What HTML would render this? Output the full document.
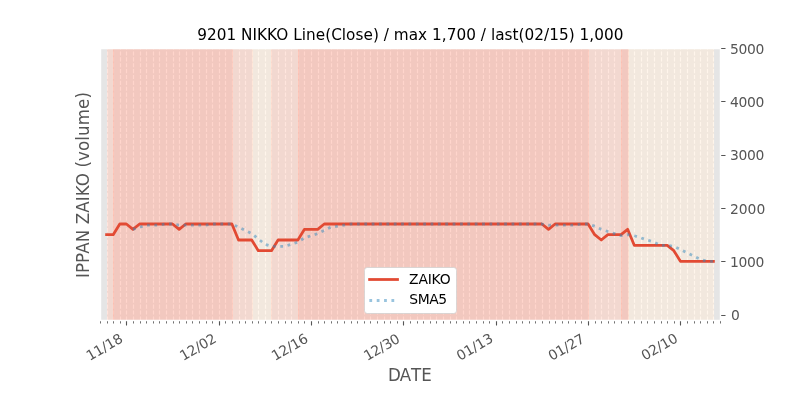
<!DOCTYPE html>
<html lang="en">
<head>
<meta charset="utf-8">
<title>9201 NIKKO Line(Close)</title>
<style>
html,body{margin:0;padding:0;background:#fff;overflow:hidden}
svg{display:block}
text{font-family:"DejaVu Sans", "Liberation Sans", sans-serif;}
.tk{font-size:13.889px;fill:#555}
.lb{font-size:16.667px;fill:#555}
.lg{font-size:13.889px;fill:#000}
.tt{font-size:15.278px;fill:#000;letter-spacing:0.033px}
</style>
</head>
<body>
<svg width="800" height="400" viewBox="0 0 800 400">
<rect x="0" y="0" width="800" height="400" fill="#fff"/>
<clipPath id="ax"><rect x="100" y="48" width="620" height="272"/></clipPath>
<rect x="100" y="48" width="620" height="272" fill="#e5e5e5"/>
<g clip-path="url(#ax)">
<path d="M100.5 320.5 V48 M107.5 320.5 V48 M113.5 320.5 V48 M120.5 320.5 V48 M126.5 320.5 V48 M133.5 320.5 V48 M140.5 320.5 V48 M146.5 320.5 V48 M153.5 320.5 V48 M159.5 320.5 V48 M166.5 320.5 V48 M173.5 320.5 V48 M179.5 320.5 V48 M186.5 320.5 V48 M192.5 320.5 V48 M199.5 320.5 V48 M206.5 320.5 V48 M212.5 320.5 V48 M219.5 320.5 V48 M225.5 320.5 V48 M232.5 320.5 V48 M239.5 320.5 V48 M245.5 320.5 V48 M252.5 320.5 V48 M258.5 320.5 V48 M265.5 320.5 V48 M271.5 320.5 V48 M278.5 320.5 V48 M285.5 320.5 V48 M291.5 320.5 V48 M298.5 320.5 V48 M304.5 320.5 V48 M311.5 320.5 V48 M318.5 320.5 V48 M324.5 320.5 V48 M331.5 320.5 V48 M337.5 320.5 V48 M344.5 320.5 V48 M351.5 320.5 V48 M357.5 320.5 V48 M364.5 320.5 V48 M370.5 320.5 V48 M377.5 320.5 V48 M384.5 320.5 V48 M390.5 320.5 V48 M397.5 320.5 V48 M403.5 320.5 V48 M410.5 320.5 V48 M417.5 320.5 V48 M423.5 320.5 V48 M430.5 320.5 V48 M436.5 320.5 V48 M443.5 320.5 V48 M450.5 320.5 V48 M456.5 320.5 V48 M463.5 320.5 V48 M469.5 320.5 V48 M476.5 320.5 V48 M483.5 320.5 V48 M489.5 320.5 V48 M496.5 320.5 V48 M502.5 320.5 V48 M509.5 320.5 V48 M516.5 320.5 V48 M522.5 320.5 V48 M529.5 320.5 V48 M535.5 320.5 V48 M542.5 320.5 V48 M549.5 320.5 V48 M555.5 320.5 V48 M562.5 320.5 V48 M568.5 320.5 V48 M575.5 320.5 V48 M581.5 320.5 V48 M588.5 320.5 V48 M595.5 320.5 V48 M601.5 320.5 V48 M608.5 320.5 V48 M614.5 320.5 V48 M621.5 320.5 V48 M628.5 320.5 V48 M634.5 320.5 V48 M641.5 320.5 V48 M647.5 320.5 V48 M654.5 320.5 V48 M661.5 320.5 V48 M667.5 320.5 V48 M674.5 320.5 V48 M680.5 320.5 V48 M687.5 320.5 V48 M694.5 320.5 V48 M700.5 320.5 V48 M707.5 320.5 V48 M713.5 320.5 V48 M720.5 320.5 V48" fill="none" stroke="#fff" stroke-width="1.111" stroke-dasharray="4.111 1.778" stroke-dashoffset="0"/>
<rect x="107.5" y="48" width="6" height="272" fill="#FFCCBC" fill-opacity="0.5" stroke="none"/>
<path d="M107.5 48 V320 M113.5 48 V320" stroke="#FFCCBC" stroke-opacity="0.5" stroke-width="0.694" fill="none"/>
<rect x="113.5" y="48" width="119" height="272" fill="#FFAB99" fill-opacity="0.5" stroke="none"/>
<path d="M113.5 48 V320 M232.5 48 V320" stroke="#FFAB99" stroke-opacity="0.5" stroke-width="0.694" fill="none"/>
<rect x="232.5" y="48" width="20" height="272" fill="#FFCCBC" fill-opacity="0.5" stroke="none"/>
<path d="M232.5 48 V320 M252.5 48 V320" stroke="#FFCCBC" stroke-opacity="0.5" stroke-width="0.694" fill="none"/>
<rect x="252.5" y="48" width="19" height="272" fill="#FFEBD7" fill-opacity="0.5" stroke="none"/>
<path d="M252.5 48 V320 M271.5 48 V320" stroke="#FFEBD7" stroke-opacity="0.5" stroke-width="0.694" fill="none"/>
<rect x="271.5" y="48" width="27" height="272" fill="#FFCCBC" fill-opacity="0.5" stroke="none"/>
<path d="M271.5 48 V320 M298.5 48 V320" stroke="#FFCCBC" stroke-opacity="0.5" stroke-width="0.694" fill="none"/>
<rect x="298.5" y="48" width="290" height="272" fill="#FFAB99" fill-opacity="0.5" stroke="none"/>
<path d="M298.5 48 V320 M588.5 48 V320" stroke="#FFAB99" stroke-opacity="0.5" stroke-width="0.694" fill="none"/>
<rect x="588.5" y="48" width="33" height="272" fill="#FFCCBC" fill-opacity="0.5" stroke="none"/>
<path d="M588.5 48 V320 M621.5 48 V320" stroke="#FFCCBC" stroke-opacity="0.5" stroke-width="0.694" fill="none"/>
<rect x="621.5" y="48" width="7" height="272" fill="#FFAB99" fill-opacity="0.5" stroke="none"/>
<path d="M621.5 48 V320 M628.5 48 V320" stroke="#FFAB99" stroke-opacity="0.5" stroke-width="0.694" fill="none"/>
<rect x="628.5" y="48" width="85" height="272" fill="#FFEBD7" fill-opacity="0.5" stroke="none"/>
<path d="M628.5 48 V320 M713.5 48 V320" stroke="#FFEBD7" stroke-opacity="0.5" stroke-width="0.694" fill="none"/>
<polyline points="106.596,234.667 113.191,234.667 119.787,224 126.383,224 132.979,229.333 139.574,224 146.17,224 152.766,224 159.362,224 165.957,224 172.553,224 179.149,229.333 185.745,224 192.34,224 198.936,224 205.532,224 212.128,224 218.723,224 225.319,224 231.915,224 238.511,240 245.106,240 251.702,240 258.298,250.667 264.894,250.667 271.489,250.667 278.085,240 284.681,240 291.277,240 297.872,240 304.468,229.333 311.064,229.333 317.66,229.333 324.255,224 330.851,224 337.447,224 344.043,224 350.638,224 357.234,224 363.83,224 370.426,224 377.021,224 383.617,224 390.213,224 396.809,224 403.404,224 410,224 416.596,224 423.191,224 429.787,224 436.383,224 442.979,224 449.574,224 456.17,224 462.766,224 469.362,224 475.957,224 482.553,224 489.149,224 495.745,224 502.34,224 508.936,224 515.532,224 522.128,224 528.723,224 535.319,224 541.915,224 548.511,229.333 555.106,224 561.702,224 568.298,224 574.894,224 581.489,224 588.085,224 594.681,234.667 601.277,240 607.872,234.667 614.468,234.667 621.064,234.667 627.66,229.333 634.255,245.333 640.851,245.333 647.447,245.333 654.043,245.333 660.638,245.333 667.234,245.333 673.83,250.667 680.426,261.333 687.021,261.333 693.617,261.333 700.213,261.333 706.809,261.333 713.404,261.333" fill="none" stroke="#e24a33" stroke-width="2.778" stroke-linejoin="round" stroke-linecap="square"/>
<polyline points="132.979,229.333 139.574,227.2 146.17,225.067 152.766,225.067 159.362,225.067 165.957,224 172.553,224 179.149,225.067 185.745,225.067 192.34,225.067 198.936,225.067 205.532,225.067 212.128,224 218.723,224 225.319,224 231.915,224 238.511,227.2 245.106,230.4 251.702,233.6 258.298,238.933 264.894,244.267 271.489,246.4 278.085,246.4 284.681,246.4 291.277,244.267 297.872,242.133 304.468,237.867 311.064,235.733 317.66,233.6 324.255,230.4 330.851,227.2 337.447,226.133 344.043,225.067 350.638,224 357.234,224 363.83,224 370.426,224 377.021,224 383.617,224 390.213,224 396.809,224 403.404,224 410,224 416.596,224 423.191,224 429.787,224 436.383,224 442.979,224 449.574,224 456.17,224 462.766,224 469.362,224 475.957,224 482.553,224 489.149,224 495.745,224 502.34,224 508.936,224 515.532,224 522.128,224 528.723,224 535.319,224 541.915,224 548.511,225.067 555.106,225.067 561.702,225.067 568.298,225.067 574.894,225.067 581.489,224 588.085,224 594.681,226.133 601.277,229.333 607.872,231.467 614.468,233.6 621.064,235.733 627.66,234.667 634.255,235.733 640.851,237.867 647.447,240 654.043,242.133 660.638,245.333 667.234,245.333 673.83,246.4 680.426,249.6 687.021,252.8 693.617,256 700.213,259.2 706.809,261.333 713.404,261.333" fill="none" stroke="#348abd" stroke-opacity="0.5" stroke-width="2.778" stroke-linejoin="round" stroke-dasharray="2.778 4.583" stroke-dashoffset="0"/>
</g>
<path d="M126.5 320.5 v5 M219.5 320.5 v5 M311.5 320.5 v5 M403.5 320.5 v5 M496.5 320.5 v5 M588.5 320.5 v5 M680.5 320.5 v5" fill="none" stroke="#555" stroke-width="1.111"/>
<path d="M100.5 320.5 v3 M107.5 320.5 v3 M113.5 320.5 v3 M120.5 320.5 v3 M133.5 320.5 v3 M140.5 320.5 v3 M146.5 320.5 v3 M153.5 320.5 v3 M159.5 320.5 v3 M166.5 320.5 v3 M173.5 320.5 v3 M179.5 320.5 v3 M186.5 320.5 v3 M192.5 320.5 v3 M199.5 320.5 v3 M206.5 320.5 v3 M212.5 320.5 v3 M225.5 320.5 v3 M232.5 320.5 v3 M239.5 320.5 v3 M245.5 320.5 v3 M252.5 320.5 v3 M258.5 320.5 v3 M265.5 320.5 v3 M271.5 320.5 v3 M278.5 320.5 v3 M285.5 320.5 v3 M291.5 320.5 v3 M298.5 320.5 v3 M304.5 320.5 v3 M318.5 320.5 v3 M324.5 320.5 v3 M331.5 320.5 v3 M337.5 320.5 v3 M344.5 320.5 v3 M351.5 320.5 v3 M357.5 320.5 v3 M364.5 320.5 v3 M370.5 320.5 v3 M377.5 320.5 v3 M384.5 320.5 v3 M390.5 320.5 v3 M397.5 320.5 v3 M410.5 320.5 v3 M417.5 320.5 v3 M423.5 320.5 v3 M430.5 320.5 v3 M436.5 320.5 v3 M443.5 320.5 v3 M450.5 320.5 v3 M456.5 320.5 v3 M463.5 320.5 v3 M469.5 320.5 v3 M476.5 320.5 v3 M483.5 320.5 v3 M489.5 320.5 v3 M502.5 320.5 v3 M509.5 320.5 v3 M516.5 320.5 v3 M522.5 320.5 v3 M529.5 320.5 v3 M535.5 320.5 v3 M542.5 320.5 v3 M549.5 320.5 v3 M555.5 320.5 v3 M562.5 320.5 v3 M568.5 320.5 v3 M575.5 320.5 v3 M581.5 320.5 v3 M595.5 320.5 v3 M601.5 320.5 v3 M608.5 320.5 v3 M614.5 320.5 v3 M621.5 320.5 v3 M628.5 320.5 v3 M634.5 320.5 v3 M641.5 320.5 v3 M647.5 320.5 v3 M654.5 320.5 v3 M661.5 320.5 v3 M667.5 320.5 v3 M674.5 320.5 v3 M687.5 320.5 v3 M694.5 320.5 v3 M700.5 320.5 v3 M707.5 320.5 v3 M713.5 320.5 v3 M720.5 320.5 v3" fill="none" stroke="#555" stroke-width="0.833"/>
<path d="M720.5 315.5 h5 M720.5 261.5 h5 M720.5 208.5 h5 M720.5 155.5 h5 M720.5 101.5 h5 M720.5 48.5 h5" fill="none" stroke="#555" stroke-width="1.111"/>
<path d="M100.5 320 V48 M720.5 320 V48 M100 320.5 H720 M100 48.5 H720" fill="none" stroke="#fff" stroke-width="1.389" stroke-linecap="square"/>
<text class="tk" transform="translate(89.775 361) rotate(-30)" style="letter-spacing:-0.15px">11/18</text>
<text class="tk" transform="translate(183.216 361) rotate(-30)" style="letter-spacing:-0.15px">12/02</text>
<text class="tk" transform="translate(275.106 361) rotate(-30)" style="letter-spacing:-0.2px">12/16</text>
<text class="tk" transform="translate(367.196 361) rotate(-30)" style="letter-spacing:-0.25px">12/30</text>
<text class="tk" transform="translate(459.987 360.875) rotate(-30)" style="letter-spacing:-0.15px">01/13</text>
<text class="tk" transform="translate(551.827 361) rotate(-30)" style="letter-spacing:-0.25px">01/27</text>
<text class="tk" transform="translate(644.768 360.675) rotate(-30)" style="letter-spacing:-0.15px">02/10</text>
<text class="tk" x="731.072" y="320" style="letter-spacing:-0.35px">0</text>
<text class="tk" x="730.072" y="267" style="letter-spacing:-0.35px">1000</text>
<text class="tk" x="730.072" y="214" style="letter-spacing:-0.05px">2000</text>
<text class="tk" x="730.072" y="160" style="letter-spacing:-0.35px">3000</text>
<text class="tk" x="730.072" y="107" style="letter-spacing:-0.35px">4000</text>
<text class="tk" x="730.072" y="54" style="letter-spacing:-0.35px">5000</text>
<text class="lb" transform="translate(0 380.796) scale(1 1.075)" x="388.1 399.65 410.96 421.24" y="0">DATE</text>
<text class="lb" text-anchor="middle" transform="translate(88.578 185) rotate(-90) scale(1 1.075)" style="letter-spacing:0.11px">IPPAN ZAIKO (volume)</text>
<text class="tt" x="410.3" y="39.667" text-anchor="middle">9201 NIKKO Line(Close) / max 1,700 / last(02/15) 1,000</text>
<rect x="364.5" y="267.5" width="92" height="46" rx="2.778" ry="2.778" fill="#fff" stroke="#ccc" stroke-width="0.694"/>
<path d="M369.6 279.5 H397.5" fill="none" stroke="#e24a33" stroke-width="2.778" stroke-linecap="square"/>
<path d="M369.361 300.5 H397.139" fill="none" stroke="#348abd" stroke-opacity="0.5" stroke-width="2.778" stroke-dasharray="2.778 4.583"/>
<text class="lg" x="409.1" y="284" style="letter-spacing:-0.21px">ZAIKO</text>
<text class="lg" x="409.25" y="304" style="letter-spacing:-0.42px">SMA5</text>
</svg>
</body>
</html>
